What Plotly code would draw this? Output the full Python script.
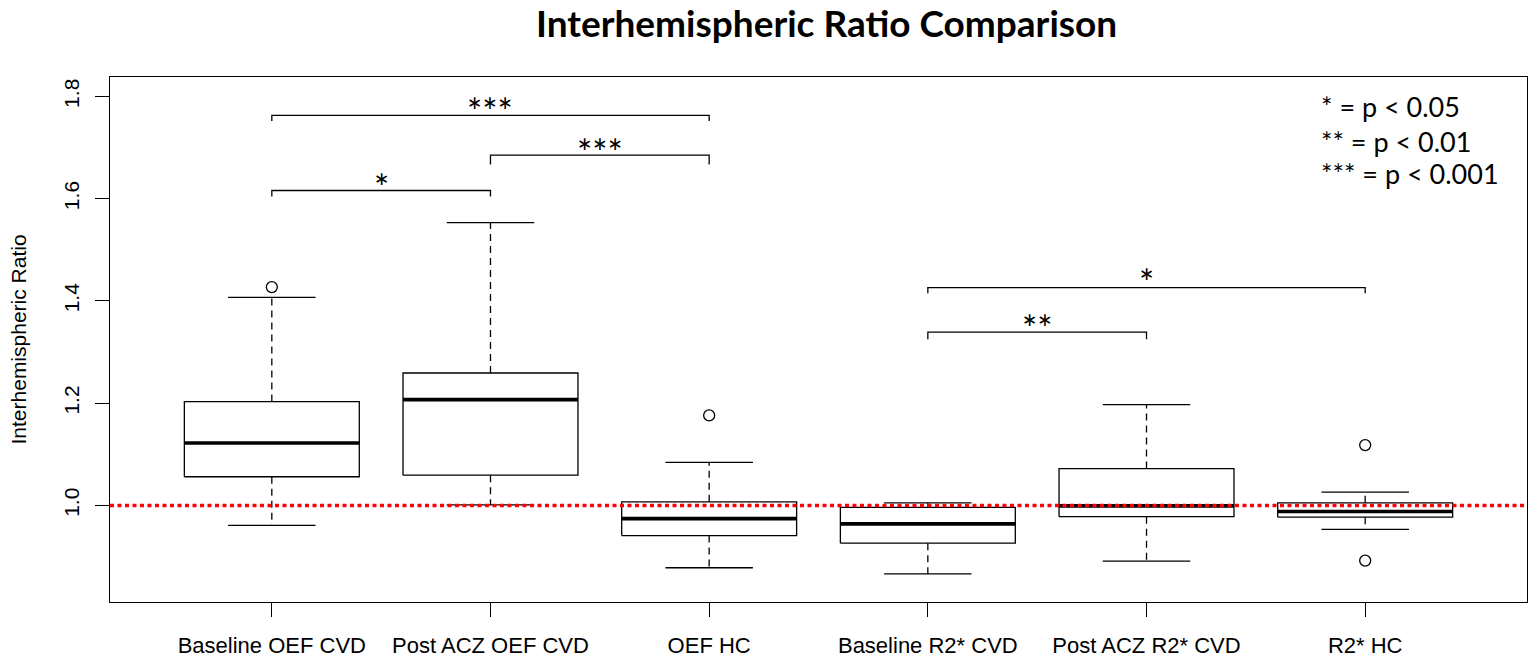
import plotly.graph_objects as go

# ---------------- data ----------------
groups = ["Baseline OEF CVD", "Post ACZ OEF CVD", "OEF HC",
          "Baseline R2* CVD", "Post ACZ R2* CVD", "R2* HC"]
lower_whisker = [0.961, 1.001, 0.878, 0.866, 0.891, 0.953]
q1 = [1.056, 1.059, 0.941, 0.926, 0.978, 0.977]
median = [1.122, 1.207, 0.974, 0.964, 0.999, 0.988]
q3 = [1.203, 1.259, 1.007, 0.996, 1.072, 1.005]
upper_whisker = [1.407, 1.553, 1.084, 1.005, 1.197, 1.026]
outlier_group = [1, 3, 6, 6]
outlier_value = [1.427, 1.176, 1.118, 0.892]

bracket_from = [1, 1, 2, 4, 4]
bracket_to = [2, 3, 3, 5, 6]
bracket_y = [1.616, 1.763, 1.685, 1.339, 1.426]
bracket_end = [1.604, 1.752, 1.667, 1.325, 1.415]
bracket_label = ["*", "***", "***", "**", "*"]
label_y = [1.638, 1.788, 1.706, 1.363, 1.453]

legend_lines = ["* = p < 0.05", "** = p < 0.01", "*** = p < 0.001"]
legend_y = [1.780, 1.712, 1.649]
legend_x = 5.79

reference_value = 1.0
y_ticks = [1.0, 1.2, 1.4, 1.6, 1.8]

# ---------------- styles ----------------
BOX_HALF = 0.4
CAP_HALF = 0.2
LW = 1.3
AXIS_FONT = "Liberation Sans, Arial, sans-serif"
CAL_FONT = "Lato, Open Sans, sans-serif"

pos = list(range(1, len(groups) + 1))

box_x, box_y = [], []
med_x, med_y = [], []
wh_x, wh_y = [], []
cap_x, cap_y = [], []
for i, p in enumerate(pos):
    box_x += [p - BOX_HALF, p + BOX_HALF, p + BOX_HALF, p - BOX_HALF, p - BOX_HALF, None]
    box_y += [q1[i], q1[i], q3[i], q3[i], q1[i], None]
    med_x += [p - BOX_HALF, p + BOX_HALF, None]
    med_y += [median[i], median[i], None]
    wh_x += [p, p, None, p, p, None]
    wh_y += [q1[i], lower_whisker[i], None, q3[i], upper_whisker[i], None]
    cap_x += [p - CAP_HALF, p + CAP_HALF, None, p - CAP_HALF, p + CAP_HALF, None]
    cap_y += [lower_whisker[i], lower_whisker[i], None, upper_whisker[i], upper_whisker[i], None]

br_x, br_y = [], []
for a, b, y, e in zip(bracket_from, bracket_to, bracket_y, bracket_end):
    br_x += [a, a, b, b, None]
    br_y += [e, y, y, e, None]

fig = go.Figure()
fig.add_trace(go.Scatter(x=wh_x, y=wh_y, mode="lines",
                         line=dict(color="black", width=LW, dash="7px,5px"), hoverinfo="skip"))
fig.add_trace(go.Scatter(x=cap_x, y=cap_y, mode="lines",
                         line=dict(color="black", width=LW), hoverinfo="skip"))
fig.add_trace(go.Scatter(x=box_x, y=box_y, mode="lines",
                         line=dict(color="black", width=LW), hoverinfo="skip"))
fig.add_trace(go.Scatter(x=med_x, y=med_y, mode="lines",
                         line=dict(color="black", width=3.7), hoverinfo="skip"))
fig.add_trace(go.Scatter(x=outlier_group, y=outlier_value, mode="markers",
                         marker=dict(symbol="circle-open", size=11, color="black",
                                     line=dict(width=LW, color="black")), hoverinfo="skip"))
fig.add_trace(go.Scatter(x=br_x, y=br_y, mode="lines",
                         line=dict(color="black", width=LW), hoverinfo="skip"))

fig.add_shape(type="line", xref="x domain", yref="y", x0=0, x1=1,
              y0=reference_value, y1=reference_value,
              line=dict(color="red", width=3.5, dash="4px,3.5px"), layer="above")

annotations = []
for a, b, lab, ly in zip(bracket_from, bracket_to, bracket_label, label_y):
    annotations.append(dict(x=(a + b) / 2, y=ly, xref="x", yref="y", text=lab,
                            showarrow=False, xanchor="center", yanchor="middle", yshift=-8,
                            font=dict(family=CAL_FONT, size=36, color="black")))
for t, ly in zip(legend_lines, legend_y):
    annotations.append(dict(x=legend_x, y=ly, xref="x", yref="y", text=t,
                            showarrow=False, xanchor="left", yanchor="middle",
                            font=dict(family=CAL_FONT, size=27, color="black")))
annotations.append(dict(x=0.5055, y=1, xref="paper", yref="paper", yshift=55,
                        text="<b>Interhemispheric Ratio Comparison</b>", showarrow=False,
                        xanchor="center", yanchor="middle",
                        font=dict(family=CAL_FONT, size=37, color="black")))
annotations.append(dict(x=0, y=0.5, xref="paper", yref="paper", xshift=-92,
                        text="Interhemispheric Ratio", showarrow=False, textangle=-90,
                        xanchor="center", yanchor="middle",
                        font=dict(family=AXIS_FONT, size=21, color="black")))

fig.update_layout(
    width=1537, height=668,
    margin=dict(l=110, r=10, t=77, b=66),
    paper_bgcolor="white", plot_bgcolor="white",
    showlegend=False,
    annotations=annotations,
    xaxis=dict(range=[0.26, 6.74], tickmode="array", tickvals=pos, ticktext=groups,
               automargin=False,
               showgrid=False, zeroline=False, showline=True, mirror=True,
               linecolor="black", linewidth=LW, ticks="outside", ticklen=14,
               tickwidth=LW, tickcolor="black", ticklabelstandoff=9,
               tickfont=dict(family=AXIS_FONT, size=22, color="black")),
    yaxis=dict(range=[0.811, 1.838], tickmode="array", tickvals=y_ticks,
               ticktext=[f"{v:.1f}" for v in y_ticks],
               automargin=False,
               showgrid=False, zeroline=False, showline=True, mirror=True,
               linecolor="black", linewidth=LW, ticks="outside", ticklen=14,
               tickwidth=LW, tickcolor="black", tickangle=-90, ticklabelstandoff=7,
               tickfont=dict(family=AXIS_FONT, size=21, color="black")),
)

# remove the browser's default 8px body margin so the figure fills the window exactly
fig.write_html("out.html", config={"displayModeBar": False},
               post_script="document.body.style.margin='0';document.body.style.overflow='hidden';")
